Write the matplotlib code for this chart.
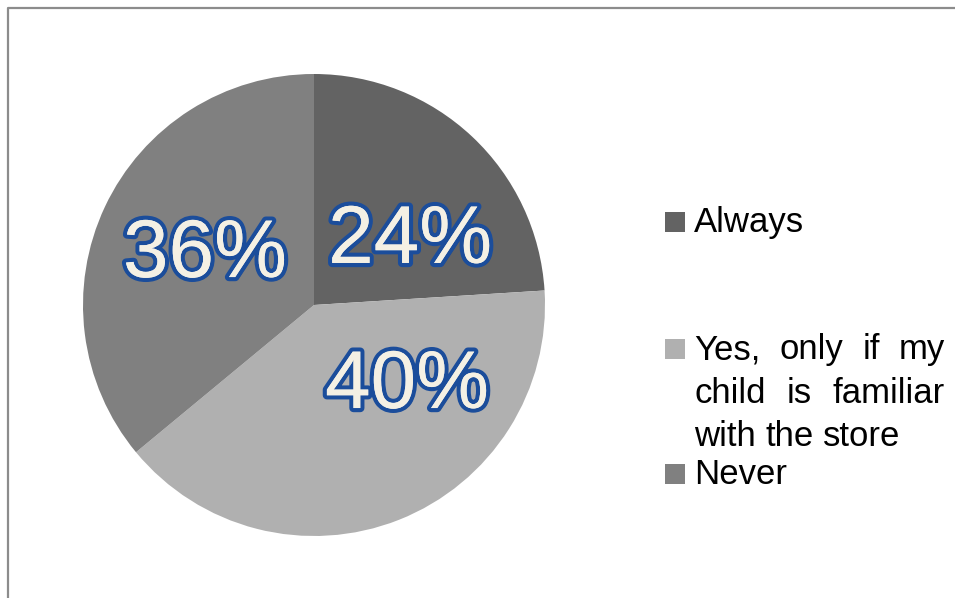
import matplotlib
matplotlib.use("Agg")
import matplotlib.pyplot as plt
import matplotlib.patheffects as pe
from matplotlib.lines import Line2D
from matplotlib.patches import Rectangle

# data
categories = ["Always", "Yes, only if my child is familiar with the store", "Never"]
shares = [24, 40, 36]
colors = ["#636363", "#b0b0b0", "#808080"]

# label baseline positions in pie units (Excel "best fit" placement)
label_pos = [(0.416, 0.182), (0.403, -0.446), (-0.472, 0.121)]

plt.rcParams["font.family"] = ["Liberation Sans", "DejaVu Sans"]

W, H = 955, 598
fig = plt.figure(figsize=(W / 100, H / 100), dpi=100)

# overlay axes in pixel coords for frame and legend
ov = fig.add_axes([0, 0, 1, 1])
ov.set_xlim(0, W)
ov.set_ylim(H, 0)
ov.axis("off")

# chart frame (only top and left edges visible)
ov.add_line(Line2D([8, 8, W], [H, 7.5, 7.5], color="#8c8c8c", lw=1.6))

# pie
cx, cy, r = 314, 305, 231
ax = fig.add_axes([(cx - r) / W, (H - cy - r) / H, 2 * r / W, 2 * r / H])
ax.pie(shares, colors=colors, startangle=90, counterclock=False,
       wedgeprops=dict(linewidth=0))
ax.set_xlim(-1, 1)
ax.set_ylim(-1, 1)

effects = [pe.SimplePatchShadow(offset=(2, -2), shadow_rgbFace="#000000", alpha=0.35),
           pe.withStroke(linewidth=6, foreground="#1b4d9b"),
           pe.Normal()]
for v, (x, y) in zip(shares, label_pos):
    ax.text(x, y, f"{v}%", ha="center", va="baseline", fontsize=59,
            color="#f4f0e4", path_effects=effects)

# legend, drawn by hand so the wrapped entry can be justified
fs = 25
text_x, text_right = 694, 945
sq_x, sq = 665, 20
legend_lines = [
    (["Always"], 232, 0, True),
    (["Yes,", "only", "if", "my"], 359, 1, True),
    (["child", "is", "familiar"], 403, None, True),
    (["with", "the", "store"], 446, None, False),
    (["Never"], 484, 2, True),
]

fig.canvas.draw()
renderer = fig.canvas.get_renderer()
space = ov.text(0, 0, "a a", fontsize=fs)
single = ov.text(0, 0, "aa", fontsize=fs)
space_w = (space.get_window_extent(renderer).width
           - single.get_window_extent(renderer).width)
space.remove()
single.remove()

for words, base, idx, justify in legend_lines:
    if idx is not None:
        ov.add_patch(Rectangle((sq_x, base - sq), sq, sq, color=colors[idx], lw=0))
    texts = [ov.text(0, base, w, fontsize=fs, color="#000000", va="baseline")
             for w in words]
    widths = [t.get_window_extent(renderer).width for t in texts]
    if justify and len(words) > 1:
        gap = (text_right - text_x - sum(widths)) / (len(words) - 1)
    else:
        gap = space_w
    x = text_x
    for t, w in zip(texts, widths):
        t.set_x(x)
        x += w + gap

fig.savefig("out.png", dpi=100, facecolor="white")
